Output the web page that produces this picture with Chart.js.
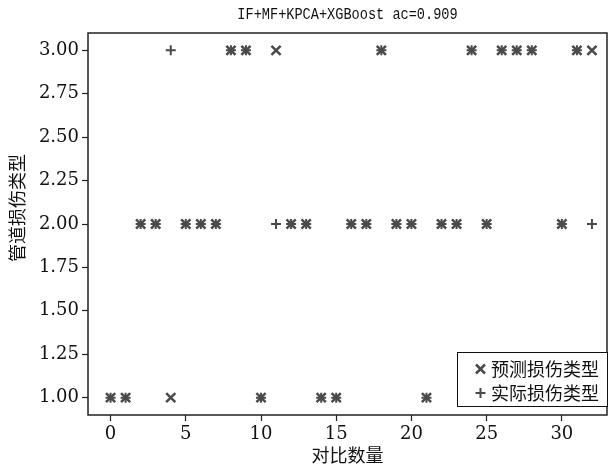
<!DOCTYPE html>
<html>
<head>
<meta charset="utf-8">
<script src="https://cdn.jsdelivr.net/npm/chart.js@4/dist/chart.umd.min.js"></script>
<style>
  html, body { margin: 0; padding: 0; background: #fff; }
  #wrap { width: 616px; height: 468px; }
</style>
</head>
<body>
<div id="wrap"><canvas id="graph" width="616" height="468"></canvas></div>
<script>
// sample index along x
var sampleIdx = [0,1,2,3,4,5,6,7,8,9,10,11,12,13,14,15,16,17,18,19,20,21,22,23,24,25,26,27,28,29,30,31,32];
// predicted damage type
var predType = [1,1,2,2,1,2,2,2,3,3,1,3,2,2,1,1,2,2,3,2,2,1,2,2,3,2,3,3,3,1,2,3,3];
// actual damage type
var trueType = [1,1,2,2,3,2,2,2,3,3,1,2,2,2,1,1,2,2,3,2,2,1,2,2,3,2,3,3,3,1,2,3,2];

var xTicks = [0,5,10,15,20,25,30];
var yTicks = [1.00,1.25,1.50,1.75,2.00,2.25,2.50,2.75,3.00];

var titleText = 'IF+MF+KPCA+XGBoost ac=0.909';
var yTitle = '管道损伤类型';
var legendNames = ['预测损伤类型', '实际损伤类型'];

var markColor = '#4a4a4a';
var cjk = '"Noto Sans CJK SC", sans-serif';
var numFont = '"DejaVu Serif", serif';

function pts(ys){
  return sampleIdx.map(function(x, i){ return {x: x, y: ys[i]}; });
}

// frame, title, y label and legend box like the original figure
var framePlugin = {
  id: 'frame',
  afterDraw: function(chart){
    var ctx = chart.ctx, a = chart.chartArea;
    ctx.save();
    ctx.strokeStyle = '#222';
    ctx.lineWidth = 1.5;
    ctx.strokeRect(a.left, a.top, a.right - a.left, a.bottom - a.top);

    // title (tall, narrow glyphs)
    ctx.save();
    ctx.fillStyle = '#111';
    ctx.font = '16px "Liberation Mono", monospace';
    ctx.textAlign = 'center';
    ctx.textBaseline = 'middle';
    ctx.translate((a.left + a.right) / 2, 15);
    ctx.scale(0.85, 1);
    ctx.fillText(titleText, 0, 0);
    ctx.restore();

    // y axis label
    ctx.save();
    ctx.fillStyle = '#111';
    ctx.font = '18px ' + cjk;
    ctx.textAlign = 'center';
    ctx.textBaseline = 'middle';
    ctx.translate(17, 208);
    ctx.rotate(-Math.PI / 2);
    ctx.fillText(yTitle, 0, 0);
    ctx.restore();

    // legend
    var lx = 457, ly = 352, lw = 150, lh = 54;
    ctx.fillStyle = '#fff';
    ctx.fillRect(lx, ly, lw, lh);
    ctx.strokeStyle = '#111';
    ctx.lineWidth = 1;
    ctx.strokeRect(lx + 0.5, ly + 0.5, lw, lh);

    var rows = [ly + 17, ly + 41];
    ctx.strokeStyle = markColor;
    ctx.lineWidth = 2.5;
    ctx.beginPath();
    ctx.moveTo(476, rows[0] - 4.5); ctx.lineTo(485, rows[0] + 4.5);
    ctx.moveTo(485, rows[0] - 4.5); ctx.lineTo(476, rows[0] + 4.5);
    ctx.stroke();
    ctx.lineWidth = 2;
    ctx.beginPath();
    ctx.moveTo(475.5, rows[1]); ctx.lineTo(485.5, rows[1]);
    ctx.moveTo(480.5, rows[1] - 5); ctx.lineTo(480.5, rows[1] + 5);
    ctx.stroke();

    ctx.fillStyle = '#111';
    ctx.font = '18px ' + cjk;
    ctx.textAlign = 'left';
    ctx.textBaseline = 'middle';
    ctx.fillText(legendNames[0], 491, rows[0]);
    ctx.fillText(legendNames[1], 491, rows[1]);
    ctx.restore();
  }
};

var context = document.getElementById('graph').getContext('2d');
var chart = new Chart(context, {
  type: 'scatter',
  data: {
    datasets: [
      {
        label: legendNames[0],
        data: pts(predType),
        pointStyle: 'crossRot',
        pointRadius: 6.5,
        pointBorderWidth: 2.5,
        borderColor: markColor,
        backgroundColor: markColor
      },
      {
        label: legendNames[1],
        data: pts(trueType),
        pointStyle: 'cross',
        pointRadius: 5,
        pointBorderWidth: 2,
        borderColor: markColor,
        backgroundColor: markColor
      }
    ]
  },
  options: {
    responsive: false,
    animation: false,
    layout: { padding: { left: 0, right: 7, top: 33, bottom: 0 } },
    plugins: {
      legend: { display: false },
      title: { display: false },
      tooltip: { enabled: false }
    },
    scales: {
      x: {
        type: 'linear',
        min: -1.5,
        max: 33,
        afterBuildTicks: function(s){ s.ticks = xTicks.map(function(v){ return {value: v}; }); },
        afterFit: function(s){ s.height = 53; },
        grid: { drawOnChartArea: false, drawTicks: true, tickLength: 6, tickColor: '#222', tickWidth: 1.2 },
        border: { display: false },
        ticks: {
          color: '#111',
          padding: 3,
          maxRotation: 0,
          font: { family: numFont, size: 18 },
          callback: function(v){ return String(v); }
        },
        title: {
          display: true,
          text: '对比数量',
          color: '#111',
          font: { family: cjk, size: 18 },
          padding: { top: 0, bottom: 2 }
        }
      },
      y: {
        type: 'linear',
        min: 0.9,
        max: 3.1,
        afterBuildTicks: function(s){ s.ticks = yTicks.map(function(v){ return {value: v}; }); },
        afterFit: function(s){ s.width = 88; },
        grid: { drawOnChartArea: false, drawTicks: true, tickLength: 6, tickColor: '#222', tickWidth: 1.2 },
        border: { display: false },
        ticks: {
          color: '#111',
          padding: 3,
          font: { family: numFont, size: 18 },
          callback: function(v){ return Number(v).toFixed(2); }
        },
        title: { display: false }
      }
    }
  },
  plugins: [framePlugin]
});
</script>
</body>
</html>
